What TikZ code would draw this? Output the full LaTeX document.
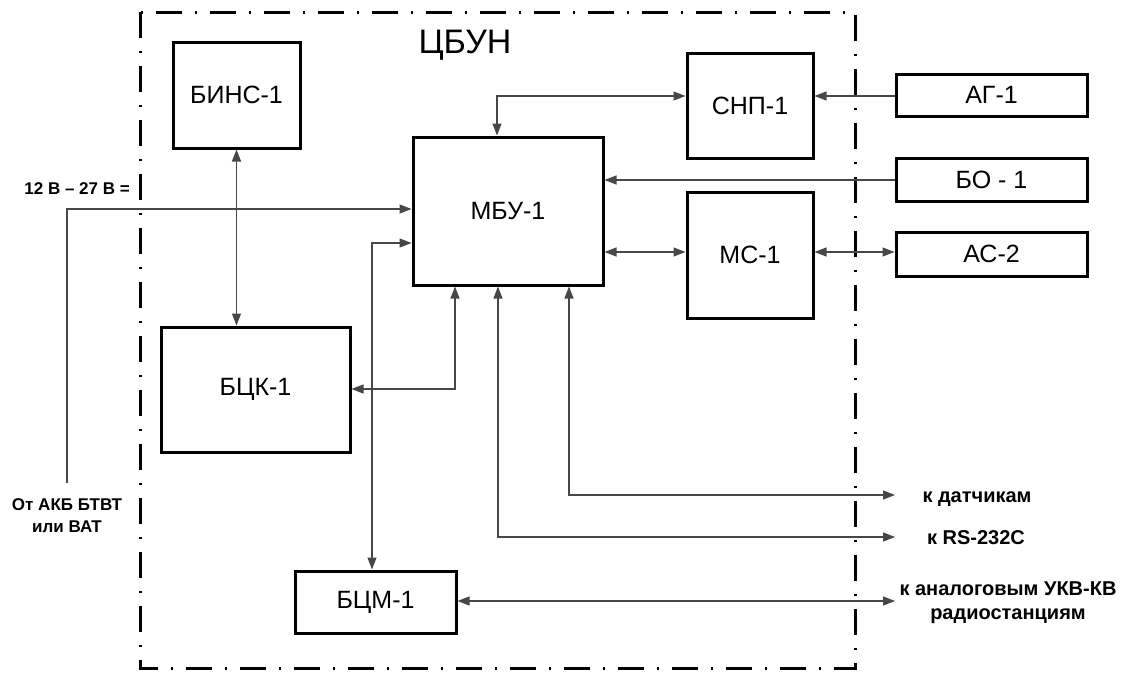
\documentclass[tikz,border=0pt]{standalone}
\usepackage{fontspec}
\setmainfont{Liberation Sans}
\usetikzlibrary{arrows.meta}
\begin{document}
\begin{tikzpicture}[x=1pt,y=-1pt,
  box/.style={draw, line width=3pt, inner sep=0pt, font=\fontsize{25}{30}\selectfont},
  conn/.style={line width=1.2pt, draw=black!72},
  >={Triangle[length=12pt,width=9pt]},
  lbl/.style={font=\bfseries\fontsize{17}{22}\selectfont, inner sep=0pt},
  rlbl/.style={font=\bfseries\fontsize{20}{24}\selectfont, inner sep=0pt, anchor=base},
  frameline/.style={line width=3pt, dash pattern=on 26pt off 13pt on 2pt off 13pt}
]
\useasboundingbox (0,0) rectangle (1128,673);

% dash-dot frame
\draw[frameline] (140,12) rectangle (855,668);
\node[font=\fontsize{34}{40}\selectfont, anchor=base, inner sep=0pt] (title) at (465,53) {ЦБУН};

% boxes
\node[box, minimum width=127pt, minimum height=106pt] (bins) at (236.5,95) {БИНС-1};
\node[box, minimum width=190pt, minimum height=148pt] (mbu) at (508,211) {МБУ-1};
\node[box, minimum width=126pt, minimum height=105pt] (snp) at (750,105.5) {СНП-1};
\node[box, minimum width=126pt, minimum height=126pt] (ms) at (750,255) {МС-1};
\node[box, minimum width=191pt, minimum height=42pt] (ag) at (991.5,95) {АГ-1};
\node[box, minimum width=191pt, minimum height=43pt] (bo) at (991.5,179.5) {БО - 1};
\node[box, minimum width=191pt, minimum height=44pt] (as) at (991.5,254) {АС-2};
\node[box, minimum width=189pt, minimum height=125pt] (bck) at (255.5,389.5) {БЦК-1};
\node[box, minimum width=161pt, minimum height=62pt] (bcm) at (375.5,602) {БЦМ-1};

% labels
\node[lbl, anchor=east] (volt) at (130,189) {12 В – 27 В =};
\node[lbl, align=center] (akb) at (67,516) {От АКБ БТВТ\\или ВАТ};
\node[rlbl] (datl) at (977,502) {к датчикам};
\node[rlbl] (rsl) at (976,544) {к RS-232С};
\node[rlbl, align=center] (radl) at (1008,619) {к аналоговым УКВ-КВ\\радиостанциям};

% free ends
\coordinate (pw) at (67,483);
\coordinate (dat) at (895,495);
\coordinate (rs) at (895,537);
\coordinate (rad) at (895,601);

% connectors
\draw[conn,->] (ag.west |- 0,96) -- (snp.east |- 0,96);
\draw[conn,<->] (mbu.north -| 497,0) |- (snp.west |- 0,96);
\draw[conn,->] (bo.west |- 0,180) -- (mbu.east |- 0,180);
\draw[conn,<->] (mbu.east |- 0,252) -- (ms.west |- 0,252);
\draw[conn,<->] (ms.east |- 0,252) -- (as.west |- 0,252);
\draw[conn,<->] (bins.south) -- (bins.south |- bck.north);
\draw[conn,->] (pw) |- (mbu.west |- 0,209);
\draw[conn,<->] (mbu.west |- 0,243) -| (bcm.north -| 372,0);
\draw[conn,<->] (mbu.south -| 455,0) |- (bck.east |- 0,389);
\draw[conn,<->] (mbu.south -| 498,0) |- (rs);
\draw[conn,<->] (mbu.south -| 569,0) |- (dat);
\draw[conn,<->] (bcm.east |- rad) -- (rad);
\end{tikzpicture}
\end{document}
